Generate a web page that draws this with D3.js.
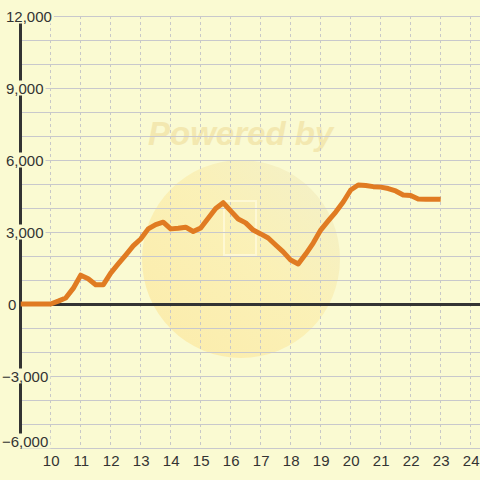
<!DOCTYPE html>
<html><head><meta charset="utf-8">
<script src="https://cdn.jsdelivr.net/npm/d3@7"></script>
<style>html,body{margin:0;padding:0;background:#fafad2;} svg{display:block;}</style>
</head><body><svg id="c" width="480" height="480"></svg>
<script>
const hours = [9, 9.25, 9.5, 9.75, 10, 10.25, 10.5, 10.75, 11, 11.25, 11.5, 11.75,
  12, 12.25, 12.5, 12.75, 13, 13.25, 13.5, 13.75, 14, 14.25, 14.5, 14.75,
  15, 15.25, 15.5, 15.75, 16, 16.25, 16.5, 16.75, 17, 17.25, 17.5, 17.75,
  18, 18.25, 18.5, 18.75, 19, 19.25, 19.5, 19.75, 20, 20.25, 20.5, 20.75,
  21, 21.25, 21.5, 21.75, 22, 22.25, 22.5, 22.75, 23];
const values = [0, 0, 0, 0, 0, 120, 250, 650, 1200, 1050, 800, 800,
  1290, 1670, 2040, 2420, 2710, 3130, 3310, 3410, 3130, 3160, 3200, 3020,
  3170, 3570, 3980, 4220, 3880, 3540, 3380, 3080, 2920, 2750, 2460, 2170,
  1830, 1670, 2080, 2540, 3080, 3460, 3830, 4250, 4750, 4960, 4940, 4890,
  4870, 4810, 4710, 4540, 4520, 4370, 4360, 4360, 4360];
const xTicks = [9, 10, 11, 12, 13, 14, 15, 16, 17, 18, 19, 20, 21, 22, 23, 24];
const xLabels = [10, 11, 12, 13, 14, 15, 16, 17, 18, 19, 20, 21, 22, 23, 24];
const yGrid = [-6000, -5000, -4000, -3000, -2000, -1000, 0, 1000, 2000, 3000, 4000, 5000, 6000, 7000, 8000, 9000, 10000, 11000, 12000];
const yLabels = [-6000, -3000, 0, 3000, 6000, 9000, 12000];

const svg = d3.select('#c');
const W = 480, H = 480;
const x = d3.scaleLinear().domain([9, 24]).range([20.7, 470.7]);
const y = d3.scaleLinear().domain([-6000, 12000]).range([448, 16]);
const FONT = '"Liberation Sans", Arial, sans-serif';
const BG = '#fafad2';
const AX = 20.5;

svg.append('rect').attr('width', W).attr('height', H).attr('fill', BG);

// watermark
const defs = svg.append('defs');
const grad = defs.append('linearGradient').attr('id', 'wm').attr('x1', '0').attr('y1', '1').attr('x2', '1').attr('y2', '0');
grad.append('stop').attr('offset', '0').attr('stop-color', '#fde08a');
grad.append('stop').attr('offset', '0.55').attr('stop-color', '#fbe9a0');
grad.append('stop').attr('offset', '1').attr('stop-color', '#ece9c4');
svg.append('circle').attr('cx', 241).attr('cy', 259).attr('r', 99)
  .attr('fill', 'url(#wm)').attr('opacity', 0.55);
svg.append('rect').attr('x', 224).attr('y', 201).attr('width', 32).attr('height', 54)
  .attr('fill', 'none').attr('stroke', '#fffbe0').attr('stroke-width', 2).attr('opacity', 0.7);
svg.append('text').attr('x', 148).attr('y', 145).text('Powered by')
  .attr('font-family', FONT).attr('font-weight', 'bold').attr('font-style', 'italic')
  .attr('font-size', 33).attr('fill', '#f3e8b0');

// horizontal gridlines
svg.append('g').selectAll('line').data(yGrid).join('line')
  .attr('x1', AX).attr('x2', W)
  .attr('y1', d => Math.round(y(d)) + 0.5).attr('y2', d => Math.round(y(d)) + 0.5)
  .attr('stroke', '#c8c8cc').attr('stroke-width', 1);

// vertical dashed gridlines
svg.append('g').selectAll('line').data(xTicks).join('line')
  .attr('x1', d => Math.floor(x(d)) + 0.5).attr('x2', d => Math.floor(x(d)) + 0.5)
  .attr('y1', y(12000)).attr('y2', y(-6000))
  .attr('stroke', '#c8c8c8').attr('stroke-width', 1).attr('stroke-dasharray', '3,3');

// zero line and y axis line
svg.append('line').attr('x1', AX).attr('x2', W).attr('y1', y(0) + 0.5).attr('y2', y(0) + 0.5)
  .attr('stroke', '#333').attr('stroke-width', 3);
svg.append('line').attr('x1', AX).attr('x2', AX).attr('y1', y(12000)).attr('y2', y(-6000))
  .attr('stroke', '#333').attr('stroke-width', 3);

// data line
const line = d3.line().x((d, i) => x(hours[i])).y(d => y(d));
svg.append('path').datum(values).attr('d', line)
  .attr('fill', 'none').attr('stroke', '#e07b22').attr('stroke-width', 5)
  .attr('stroke-linejoin', 'round').attr('stroke-linecap', 'butt');

// y labels with background boxes (bottom label is kept above the x labels)
const labelY = d => Math.min(y(d), 441);
const yl = svg.append('g').selectAll('g').data(yLabels).join('g');
yl.append('text')
  .attr('x', d => d < 0 ? 2 : (d === 0 ? 8 : 6))
  .attr('y', d => labelY(d) + 5.5)
  .attr('font-family', FONT).attr('font-size', 15).attr('fill', '#333')
  .text(d => d3.format(',')(d));
yl.each(function() {
  const g = d3.select(this);
  const b = g.select('text').node().getBBox();
  g.insert('rect', 'text').attr('x', b.x - 1).attr('y', b.y + b.height / 2 - 7.5)
    .attr('width', b.width + 3).attr('height', 15).attr('fill', BG);
});

// x axis labels
const xa = d3.axisBottom(x).tickValues(xLabels).tickSize(0).tickPadding(0).tickFormat(d3.format('d'));
const gx = svg.append('g').attr('transform', 'translate(0,455)').call(xa);
gx.select('.domain').remove();
gx.selectAll('text').attr('font-family', FONT).attr('font-size', 15).attr('fill', '#333')
  .attr('dy', '0.71em');
</script>
</body></html>
